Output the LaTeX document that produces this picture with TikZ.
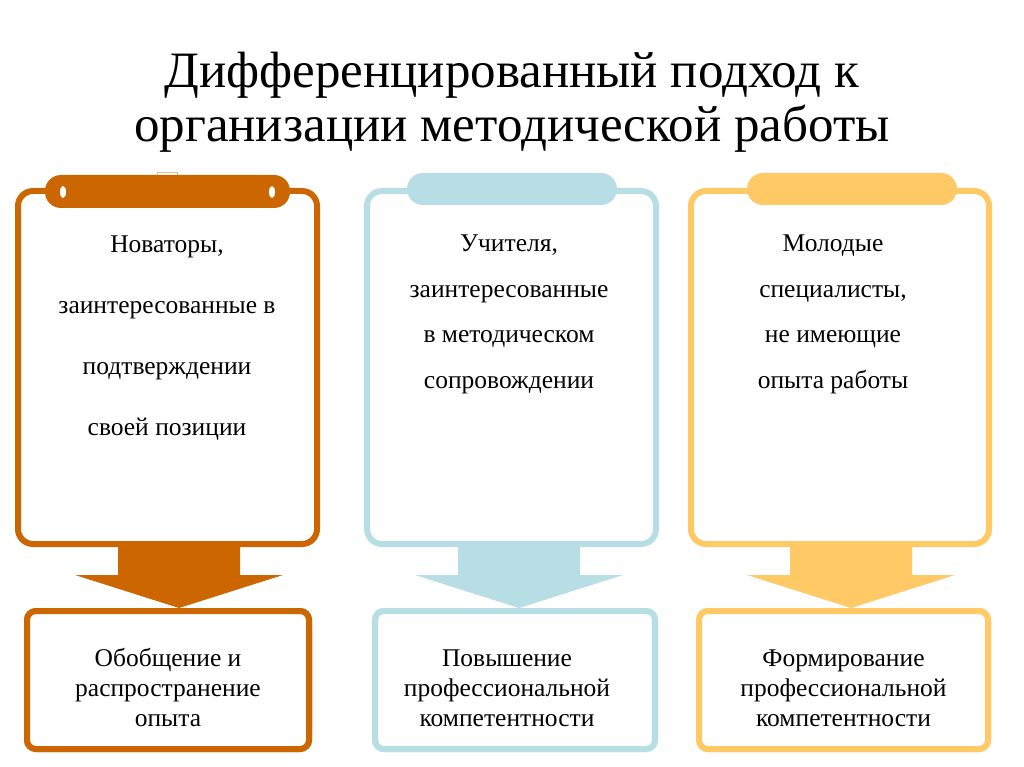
\documentclass[tikz,border=0pt]{standalone}
\usepackage{fontspec}
\setmainfont{Liberation Serif}
\usetikzlibrary{calc}
\definecolor{corange}{RGB}{204,102,0}
\definecolor{cblue}{RGB}{183,222,228}
\definecolor{cyellow}{RGB}{255,201,102}
\tikzset{
  card/.style={draw=#1, line width=6pt, rounded corners=15pt, fill=white, inner sep=0pt},
  cliptab/.style={fill=#1, rounded corners=16pt, inner sep=0pt},
  result/.style={draw=#1, line width=6pt, rounded corners=9pt, fill=white, inner sep=0pt},
  bodytext/.style={font=\fontsize{25.5}{61}\selectfont, align=center, anchor=base, inner sep=0pt},
  bodytextb/.style={font=\fontsize{25.5}{45.5}\selectfont, align=center, anchor=base, inner sep=0pt},
  restext/.style={font=\fontsize{25.5}{30}\selectfont, align=center, anchor=base, inner sep=0pt},
}
\newcommand\flowarrow[4]{% from node #1 to node #2, colour #3, x offset #4
  \coordinate (t#1) at ($(#1.south)+(#4,0)$);
  \coordinate (p#1) at (t#1 |- #2.north);
  \fill[#3] ($(t#1)+(-61,0)$) -- ($(t#1)+(61,0)$) -- ($(p#1)+(61,-33)$) -- ($(p#1)+(104,-33)$)
    -- (p#1) -- ($(p#1)+(-104,-33)$) -- ($(p#1)+(-61,-33)$) -- cycle;
}
\begin{document}
\begin{tikzpicture}[x=1pt,y=-1pt]
\useasboundingbox (0,0) rectangle (1024,767);
\fill[white] (0,0) rectangle (1024,767);

\node[font=\fontsize{51}{54}\selectfont, align=center, anchor=base, inner sep=0pt] (title) at (512,142)
  {Дифференцированный подход к\\организации методической работы};

% top cards
\node[card=corange, minimum width=299pt, minimum height=353pt] (b1) at (167.5,367.5) {};
\node[card=cblue, minimum width=289pt, minimum height=353pt] (b2) at (511.5,367.5) {};
\node[card=cyellow, minimum width=298pt, minimum height=353pt] (b3) at (840,367.5) {};

% clip tabs
\draw[corange!45, line width=0.8pt] (157,172) rectangle (177,176);
\node[cliptab=corange, minimum width=245pt, minimum height=33pt] (tab1) at (167.5,191.5) {};
\fill[white] (63,192) ellipse [x radius=3, y radius=6];
\fill[white] (272,192) ellipse [x radius=3, y radius=6];
\node[cliptab=cblue, minimum width=210pt, minimum height=32pt] (tab2) at (512,189) {};
\node[cliptab=cyellow, minimum width=210pt, minimum height=32pt] (tab3) at (852,189) {};

% texts in cards
\node[bodytext] (t1) at (167,435) {Новаторы,\\заинтересованные в\\подтверждении\\своей позиции};
\node[bodytextb] (t2) at (509,388) {Учителя,\\заинтересованные\\в методическом\\сопровождении};
\node[bodytextb] (t3) at (833,388) {Молодые\\специалисты,\\не имеющие\\опыта работы};

% result boxes
\node[result=corange, minimum width=282pt, minimum height=138pt] (c1) at (168,680) {};
\node[result=cblue, minimum width=280pt, minimum height=138pt] (c2) at (515,680) {};
\node[result=cyellow, minimum width=289pt, minimum height=138pt] (c3) at (843.5,680) {};

% arrows, then result boxes redrawn on top
\flowarrow{b1}{c1}{corange}{11.5}
\flowarrow{b2}{c2}{cblue}{7.5}
\flowarrow{b3}{c3}{cyellow}{11}

\node[result=corange, minimum width=282pt, minimum height=138pt] at (c1) {};
\node[result=cblue, minimum width=280pt, minimum height=138pt] at (c2) {};
\node[result=cyellow, minimum width=289pt, minimum height=138pt] at (c3) {};

\node[restext] (r1) at (168,726) {Обобщение и\\распространение\\опыта};
\node[restext] (r2) at (507,726) {Повышение\\профессиональной\\компетентности};
\node[restext] (r3) at (843.5,726) {Формирование\\профессиональной\\компетентности};
\end{tikzpicture}
\end{document}
